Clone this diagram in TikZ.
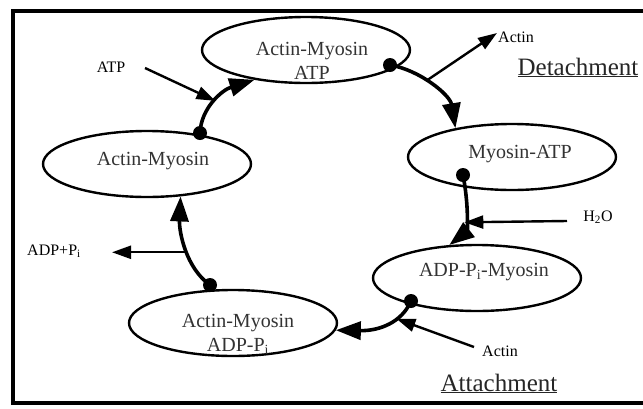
\documentclass[tikz,border=0pt]{standalone}
\usepackage{fontspec}
\setmainfont{Liberation Serif}
\usetikzlibrary{arrows.meta,shapes.geometric}
\begin{document}
\begin{tikzpicture}[x=1pt,y=-1pt,
  state/.style={ellipse,draw,line width=2.4pt,minimum width=208pt,minimum height=66pt,inner sep=0pt},
  statetext/.style={font=\fontsize{20}{24}\selectfont,text=black!80,align=center,inner sep=0pt},
  small/.style={font=\fontsize{16}{19}\selectfont,inner sep=0pt,anchor=base},
  heading/.style={font=\fontsize{25}{30}\selectfont,text=black!85,inner sep=0pt,anchor=base},
  dot/.style={circle,fill=black,minimum size=14pt,inner sep=0pt},
  main/.style={line width=3.6pt,-{Triangle[length=25pt,width=18pt]}},
  side/.style={line width=2.4pt,-{Triangle[length=19pt,width=13pt]}}]
\clip (0,0) rectangle (643,408);
\fill[white] (0,0) rectangle (643,408);
\draw[line width=4.5pt] (660,11) -- (13,11) -- (13,403) -- (660,403);

% states
\node[state] (e1) at (306,50) {};
\node[state] (e2) at (512,157) {};
\node[state] (e3) at (477,278) {};
\node[state] (e4) at (233,323) {};
\node[state] (e5) at (147,164) {};

\node[statetext] (l1) at (312,61) {Actin-Myosin\\ATP};
\node[statetext,anchor=base] (l2) at (520,158) {Myosin-ATP};
\node[statetext,anchor=base] (l3) at (484,276) {ADP-P\textsubscript{i}-Myosin};
\node[statetext] (l4) at (238,334) {Actin-Myosin\\ADP-P\textsubscript{i}};
\node[statetext,anchor=base] (l5) at (153,165) {Actin-Myosin};

% dots
\node[dot] (d1) at (390,65) {};
\node[dot] (d2) at (463,175) {};
\node[dot] (d3) at (411,301) {};
\node[dot] (d4) at (210,285) {};
\node[dot] (d5) at (200,133) {};

% cycle arrows
\draw[main] (d5.center) .. controls (201,108) and (222,90) .. coordinate[pos=0.5] (b1) (e1.210);
\draw[main] (d1.center) .. controls (420,70) and (450,95) .. coordinate[pos=0.42] (b2) (e2.153);
\draw[main] (d2.center) .. controls (470,212) and (466,232) .. coordinate[pos=0.55] (b3) (e3.130);
\draw[main] (d3.center) .. controls (402,322) and (380,331) .. coordinate[pos=0.35] (b4) (e4.-4);
\draw[main] (d4.center) .. controls (186,268) and (179,232) .. coordinate[pos=0.45] (b5) (e5.-44);

% side arrows and labels
\coordinate (atp) at (145,68);
\coordinate (actout) at (497,33);
\coordinate (h2o) at (567,221);
\coordinate (actin) at (474,347);
\coordinate (adp) at (112,249);

\draw[side] (atp) -- (b1);
\draw[side] (b2) -- (actout);
\draw[side] (h2o) -- (b3);
\draw[side] (actin) -- (b4);
\draw[side] (b5) -- (b5 -| adp);

\node[small] (tatp) at (111,72) {ATP};
\node[small] (tact1) at (516,42) {Actin};
\node[small] (th2o) at (598,221) {H\textsubscript{2}O};
\node[small] (tact2) at (500,356) {Actin};
\node[small] (tadp) at (54,255) {ADP+P\textsubscript{i}};

\node[heading] (det) at (578,75) {\underline{Detachment}};
\node[heading] (att) at (499,391) {\underline{Attachment}};
\end{tikzpicture}
\end{document}
